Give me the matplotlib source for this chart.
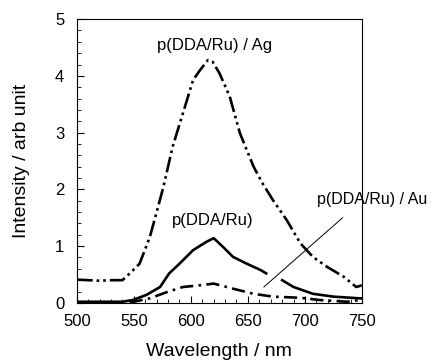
import matplotlib
matplotlib.use('Agg')
import matplotlib.pyplot as plt
from matplotlib.ticker import MultipleLocator

plt.rcParams['font.family'] = ['Liberation Sans', 'DejaVu Sans']

# Ag-Substrat (Strich-Punkt-Punkt)
wl_ag = [500, 510, 520, 530, 540, 548, 555, 560, 564, 570, 576, 584, 593, 602, 608, 615, 619,
         625, 634, 643, 655, 663, 672, 684, 696, 707, 719, 734, 745, 750]
int_ag = [0.41, 0.40, 0.39, 0.40, 0.40, 0.55, 0.69, 0.95, 1.16, 1.6, 2.05, 2.75, 3.34, 3.93, 4.1,
          4.28, 4.25, 4.05, 3.64, 2.99, 2.4, 2.1, 1.81, 1.46, 1.05, 0.81, 0.64, 0.46, 0.28, 0.31]

# ohne Substrat (durchgezogen), Luecke bei der Beschriftungslinie
wl_ru = [500, 520, 540, 549, 561, 573, 581, 590, 602, 614, 620, 628, 637, 649, 661, 666,
         672, 680, 690, 707, 725, 748, 750]
int_ru = [0.02, 0.02, 0.02, 0.05, 0.14, 0.28, 0.52, 0.69, 0.93, 1.08, 1.14, 0.99, 0.81, 0.69,
          0.58, 0.52, float('nan'), 0.4, 0.28, 0.16, 0.11, 0.08, 0.08]

# Au-Substrat (Strich-Punkt)
wl_au = [500, 520, 540, 550, 564, 579, 593, 608, 620, 637, 655, 672, 696, 713, 737, 748, 750]
int_au = [0.01, 0.01, 0.01, 0.02, 0.08, 0.19, 0.28, 0.31, 0.34, 0.25, 0.16, 0.11, 0.09, 0.05,
          0.02, 0.05, 0.05]

# Beschriftungslinie fuer Au
line_x = [664, 733]
line_y = [0.28, 1.5]

fig = plt.figure(figsize=(4.34, 3.61), dpi=100)
ax = fig.add_axes([0.177, 0.161, 0.657, 0.786])

ax.plot(wl_ag, int_ag, color='black', lw=1.9, linestyle=(0, (6, 1.5, 1, 1.5, 1, 1.5)))
ax.plot(wl_ru, int_ru, color='black', lw=1.9)
ax.plot(wl_au, int_au, color='black', lw=1.9, linestyle=(0, (5, 2, 1, 2)))
ax.plot(line_x, line_y, color='black', lw=0.7, clip_on=False)

ax.text(621, 4.54, 'p(DDA/Ru) / Ag', ha='center', va='center', fontsize=12)
ax.text(619, 1.46, 'p(DDA/Ru)', ha='center', va='center', fontsize=12)
ax.text(759, 1.82, 'p(DDA/Ru) / Au', ha='center', va='center', fontsize=11.5, clip_on=False)

ax.set_xlim(500, 750)
ax.set_ylim(0, 5)
ax.xaxis.set_major_locator(MultipleLocator(50))
ax.xaxis.set_minor_locator(MultipleLocator(10))
ax.yaxis.set_major_locator(MultipleLocator(1))
ax.yaxis.set_minor_locator(MultipleLocator(0.2))
ax.tick_params(which='both', direction='in', labelsize=12)
ax.tick_params(axis='x', which='major', length=5, pad=8)
ax.tick_params(axis='y', which='major', length=5, pad=9)
ax.tick_params(which='minor', length=3)

ax.set_xlabel('Wavelength / nm', fontsize=14, labelpad=10)
ax.set_ylabel('Intensity / arb unit', fontsize=14, labelpad=18)

fig.savefig('out.png', dpi=100)
